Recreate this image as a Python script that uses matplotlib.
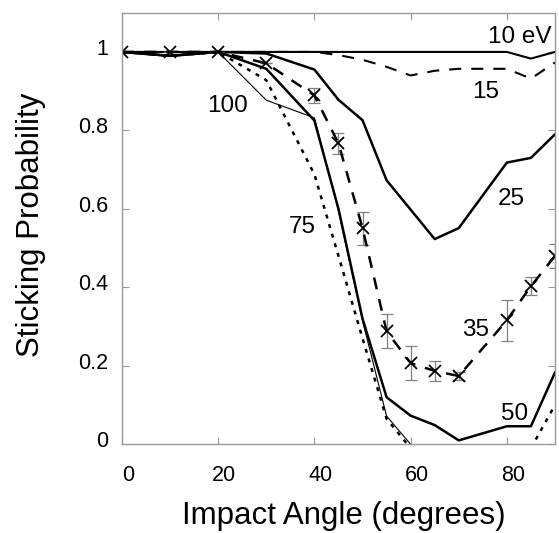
import numpy as np
import matplotlib
matplotlib.use("Agg")
import matplotlib.pyplot as plt
from matplotlib.transforms import ScaledTranslation

plt.rcParams['font.family'] = ['Liberation Sans', 'DejaVu Sans']

# ---- data ----
angles = [0, 10, 20, 30, 40, 45, 50, 55, 60, 65, 70, 80, 85, 90]
nan = np.nan
e10 = [1.0, 1.0, 1.0, 1.0, 1.0, 1.0, 1.0, 1.0, 1.0, 1.0, 1.0, 1.0, 0.983, 1.0]
e15 = [1.0, 0.99, 1.0, 1.0, 1.0, 0.992, 0.98, 0.962, 0.94, 0.952, 0.957, 0.957, 0.932, 0.973]
e25 = [1.0, 0.99, 1.0, 0.996, 0.955, 0.878, 0.826, 0.673, 0.598, 0.523, 0.551, 0.718, 0.73, 0.79]
e35 = [1.0, 1.0, 1.0, 0.971, 0.889, 0.767, 0.551, 0.288, 0.207, 0.187, 0.174, 0.316, 0.403, 0.48]
err35 = [0, 0, 0, 0, 0.018, 0.026, 0.042, 0.043, 0.044, 0.026, 0.01, 0.052, 0.023, 0.031]
e50 = [1.0, 0.99, 1.0, 0.957, 0.825, 0.60, 0.32, 0.12, 0.073, 0.049, 0.01, 0.046, 0.046, 0.183]
e75 = [1.0, 0.99, 1.0, 0.928, 0.688, 0.48, 0.27, 0.065, -0.01, nan, nan, nan, -0.01, 0.1]
e100 = [1.0, 0.99, 1.0, 0.877, 0.832, 0.595, 0.315, 0.072, 0.0, nan, nan, nan, nan, nan]

labels = ["10 eV", "15", "25", "35", "50", "75", "100"]
label_pos = [(76.0, 1.024), (72.85, 0.883), (78.06, 0.610), (70.77, 0.276),
             (78.75, 0.062), (34.65, 0.538), (17.65, 0.848)]

xticks = [0, 20, 40, 60, 80]
yticks = [0, 0.2, 0.4, 0.6, 0.8, 1.0]
yticklabels = ["0", "0.2", "0.4", "0.6", "0.8", "1"]

# ---- figure ----
fig = plt.figure(figsize=(5.59, 5.33), dpi=100)
ax = fig.add_axes([0.2182, 0.1664, 0.7746, 0.8098])

ax.plot(angles, e10, color='black', lw=1.5)
ax.plot(angles, e15, color='black', lw=1.5, linestyle=(0, (5.8, 4.8)))
ax.plot(angles, e25, color='black', lw=1.8)
ax.errorbar(angles, e35, yerr=err35, fmt='none', ecolor='#808080',
            elinewidth=0.9, capsize=4, capthick=0.9)
ax.plot(angles, e35, color='black', lw=1.8, linestyle=(0, (4.8, 4.0)))
ax.plot(angles, e35, linestyle='none', marker='x', color='black',
        markersize=8, markeredgewidth=1.3)
ax.plot(angles, e50, color='black', lw=1.8)
ax.plot(angles, e75, color='black', lw=1.8, linestyle=(0, (1.6, 2.4)))
ax.plot(angles, e100, color='black', lw=0.8)

for txt, (lx, ly) in zip(labels, label_pos):
    ax.text(lx, ly, txt, fontsize=17.5, ha='left', va='baseline', color='black')

ax.set_xlim(0, 90)
ax.set_ylim(0, 1.1)
ax.set_xticks(xticks)
ax.set_yticks(yticks)
ax.set_yticklabels(yticklabels)

for sp in ax.spines.values():
    sp.set_color('#999999')
    sp.set_linewidth(1.0)
ax.tick_params(axis='both', which='major', direction='in', length=5,
               width=0.8, color='#999999', top=True, right=True,
               labelsize=15.5)
ax.tick_params(axis='x', pad=15)
ax.tick_params(axis='y', pad=10)

offx = ScaledTranslation(0.06, 0, fig.dpi_scale_trans)
for lab in ax.get_xticklabels():
    lab.set_transform(lab.get_transform() + offx)
offy = ScaledTranslation(0, 0.05, fig.dpi_scale_trans)
for lab in ax.get_yticklabels():
    lab.set_transform(lab.get_transform() + offy)

ax.set_xlabel("Impact Angle (degrees)", fontsize=22.5)
ax.xaxis.set_label_coords(0.6154, 0.016, transform=fig.transFigure)
ax.xaxis.label.set_verticalalignment('baseline')
ax.set_ylabel("Sticking Probability", fontsize=22.5)
ax.yaxis.set_label_coords(0.0703, 0.578, transform=fig.transFigure)
ax.yaxis.label.set_verticalalignment('baseline')

fig.savefig("out.png", dpi=100)
